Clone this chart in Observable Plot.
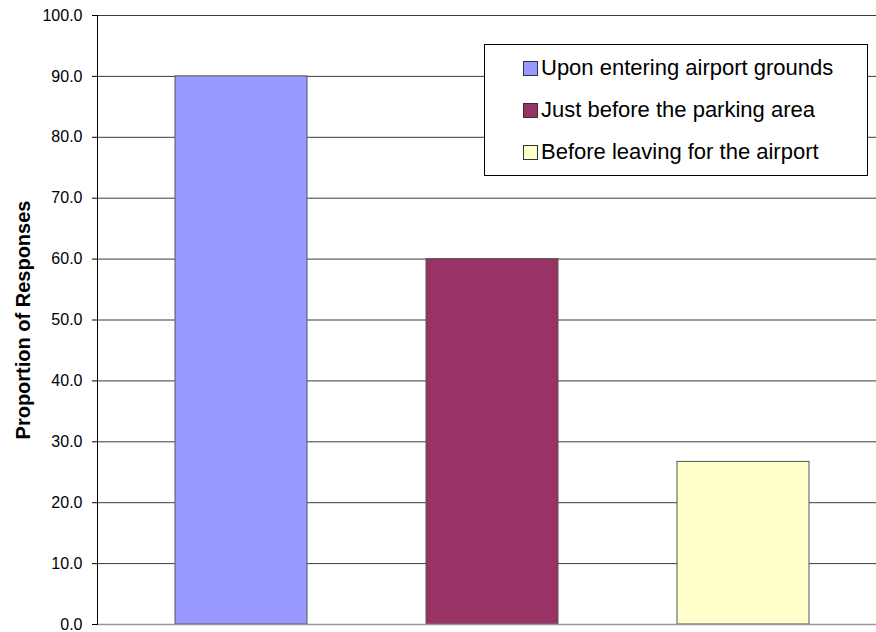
<!DOCTYPE html>
<html><head><meta charset="utf-8">
<script src="https://cdn.jsdelivr.net/npm/d3@7"></script>
<script src="https://cdn.jsdelivr.net/npm/@observablehq/plot@0.6"></script>
<style>
body{margin:0;background:#fff;}
#chart{position:relative;width:876px;height:632px;font-family:Arial,"Liberation Sans",sans-serif;}
#legend{position:absolute;left:484px;top:44px;width:382px;height:130px;border:1px solid #000;background:#fff;box-sizing:content-box;}
.item{position:absolute;left:38px;display:flex;align-items:center;font-size:22px;color:#000;white-space:nowrap;}
.sw{width:13px;height:13px;border:1px solid #333;margin-right:3px;flex:none;}
</style>
</head><body><div id="chart"></div>
<script>
const categories = ["Upon entering airport grounds","Just before the parking area","Before leaving for the airport"];
const values = [90.0, 60.0, 26.7];
const colors = ["#9999FF","#993366","#FFFFCC"];
const yTicks = [0,10,20,30,40,50,60,70,80,90,100];
const yLabel = "Proportion of Responses";

const data = categories.map((c,i)=>({category:c, value:values[i]}));

const plot = Plot.plot({
  width: 876, height: 632,
  marginLeft: 97, marginRight: 0, marginTop: 15, marginBottom: 8,
  style: {fontFamily: "Arial, 'Liberation Sans', sans-serif", fontSize: "16px", color: "#000", background: "#fff"},
  x: {domain: categories, range: [115.5, 868.5], paddingInner: 0.474, paddingOuter: 0.237, axis: null},
  y: {domain: [0, 100], label: null, axis: null},
  color: {domain: categories, range: colors},
  marks: [
    Plot.ruleY(yTicks.filter(t => t > 0), {stroke: "#3a3a3a", strokeWidth: 1}),
    Plot.barY(data, {x: "category", y: "value", fill: "category", stroke: "#555", strokeWidth: 1}),
    Plot.ruleY([0], {stroke: "#999", strokeWidth: 1.5}),
    Plot.frame({anchor: "left", stroke: "#000"}),
    Plot.axisY({ticks: yTicks, tickFormat: d => d.toFixed(1), tickSize: 5, tickPadding: 10, label: null, stroke: "#000", fontSize: 16}),
    Plot.text([yLabel], {frameAnchor: "left", textAnchor: "middle", rotate: -90, dx: -74, fontWeight: "bold", fontSize: 20, fill: "#000"})
  ]
});
const chart = document.getElementById("chart");
chart.appendChild(plot);

const legend = document.createElement("div");
legend.id = "legend";
const rowCenters = [23, 65, 107];
categories.forEach((c, i) => {
  const it = document.createElement("div");
  it.className = "item";
  it.style.top = rowCenters[i] - 14 + "px";
  it.style.height = "28px";
  const sw = document.createElement("span");
  sw.className = "sw";
  sw.style.background = colors[i];
  const tx = document.createElement("span");
  tx.textContent = c;
  it.appendChild(sw); it.appendChild(tx);
  legend.appendChild(it);
});
chart.appendChild(legend);
</script>
</body></html>
